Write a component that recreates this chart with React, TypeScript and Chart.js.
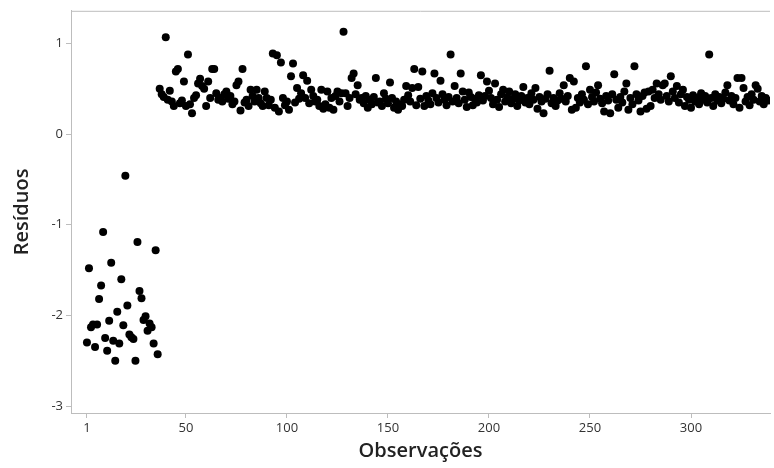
import { useEffect, useRef } from "react";
import { Chart, registerables } from "chart.js";

Chart.register(...registerables);

// Observations 1..36 (low cluster)
const lowResiduals = [
  -2.30, -1.48, -2.13, -2.10, -2.35, -2.10, -1.82, -1.67, -1.08, -2.25,
  -2.39, -2.06, -1.42, -2.28, -2.50, -1.96, -2.31, -1.60, -2.11, -0.46,
  -1.89, -2.21, -2.24, -2.26, -2.50, -1.19, -1.73, -1.81, -2.05, -2.01,
  -2.17, -2.09, -2.13, -2.31, -1.28, -2.43,
];

// Observations 37..338 (upper band)
const highResiduals = [
  0.50, 0.44, 0.41, 1.07, 0.38, 0.48, 0.36, 0.31, 0.69, 0.72,
  0.34, 0.37, 0.58, 0.31, 0.88, 0.33, 0.23, 0.40, 0.43, 0.56,
  0.61, 0.53, 0.50, 0.31, 0.58, 0.40, 0.72, 0.72, 0.45, 0.38,
  0.40, 0.36, 0.44, 0.47, 0.39, 0.42, 0.33, 0.36, 0.54, 0.58,
  0.26, 0.72, 0.35, 0.38, 0.31, 0.49, 0.42, 0.36, 0.49, 0.40,
  0.34, 0.31, 0.47, 0.40, 0.32, 0.38, 0.89, 0.29, 0.87, 0.25,
  0.79, 0.40, 0.32, 0.36, 0.27, 0.64, 0.78, 0.35, 0.51, 0.39,
  0.45, 0.65, 0.40, 0.59, 0.34, 0.49, 0.42, 0.36, 0.38, 0.31,
  0.49, 0.28, 0.33, 0.47, 0.29, 0.40, 0.27, 0.42, 0.47, 0.36,
  0.45, 1.13, 0.45, 0.31, 0.40, 0.62, 0.67, 0.44, 0.54, 0.38,
  0.40, 0.34, 0.42, 0.29, 0.38, 0.33, 0.41, 0.62, 0.35, 0.36,
  0.31, 0.45, 0.39, 0.34, 0.57, 0.40, 0.29, 0.36, 0.27, 0.33,
  0.31, 0.38, 0.53, 0.43, 0.36, 0.51, 0.72, 0.32, 0.52, 0.39,
  0.69, 0.31, 0.42, 0.37, 0.33, 0.45, 0.67, 0.40, 0.35, 0.59,
  0.44, 0.38, 0.32, 0.41, 0.88, 0.36, 0.53, 0.40, 0.34, 0.67,
  0.47, 0.38, 0.30, 0.46, 0.41, 0.32, 0.39, 0.35, 0.43, 0.65,
  0.37, 0.42, 0.58, 0.48, 0.40, 0.33, 0.56, 0.38, 0.30, 0.44,
  0.49, 0.36, 0.41, 0.47, 0.34, 0.39, 0.44, 0.31, 0.37, 0.42,
  0.52, 0.35, 0.40, 0.33, 0.45, 0.38, 0.51, 0.28, 0.41, 0.36,
  0.23, 0.39, 0.44, 0.70, 0.34, 0.40, 0.31, 0.37, 0.45, 0.39,
  0.54, 0.36, 0.42, 0.62, 0.27, 0.58, 0.29, 0.40, 0.35, 0.44,
  0.38, 0.75, 0.33, 0.49, 0.41, 0.36, 0.46, 0.54, 0.39, 0.34,
  0.25, 0.42, 0.37, 0.23, 0.44, 0.66, 0.38, 0.29, 0.41, 0.35,
  0.47, 0.56, 0.27, 0.40, 0.33, 0.75, 0.44, 0.37, 0.25, 0.42,
  0.46, 0.28, 0.47, 0.31, 0.49, 0.40, 0.56, 0.44, 0.38, 0.54,
  0.56, 0.42, 0.36, 0.64, 0.47, 0.40, 0.53, 0.35, 0.44, 0.49,
  0.31, 0.41, 0.38, 0.29, 0.43, 0.36, 0.40, 0.33, 0.45, 0.38,
  0.42, 0.35, 0.88, 0.40, 0.31, 0.44, 0.37, 0.41, 0.34, 0.39,
  0.46, 0.54, 0.37, 0.42, 0.33, 0.40, 0.62, 0.29, 0.62, 0.51,
  0.36, 0.41, 0.32, 0.44, 0.38, 0.54, 0.50, 0.36, 0.42, 0.33, 0.40, 0.37,
];

const xTickValues = [1, 50, 100, 150, 200, 250, 300];
const yTickValues = [-3, -2, -1, 0, 1];
const xTitle = "Observações";
const yTitle = "Resíduos";

const FONT = "'Open Sans', 'Noto Sans', sans-serif";
const AXIS_GRAY = "#bdbdbd";

export default function App() {
  const canvasRef = useRef<HTMLCanvasElement | null>(null);

  useEffect(() => {
    const canvas = canvasRef.current;
    if (!canvas) return;
    const residuals = [...lowResiduals, ...highResiduals];
    const points = residuals.map((v, i) => ({ x: i + 1, y: v }));

    const topFrame = {
      id: "topFrame",
      afterDraw(chart: any) {
        const { ctx, chartArea } = chart;
        ctx.save();
        ctx.strokeStyle = AXIS_GRAY;
        ctx.lineWidth = 1;
        ctx.beginPath();
        ctx.moveTo(chartArea.left, chartArea.top + 0.5);
        ctx.lineTo(chartArea.right, chartArea.top + 0.5);
        ctx.stroke();
        ctx.restore();
      },
    };

    const chart = new Chart(canvas, {
      type: "scatter",
      data: {
        datasets: [
          {
            data: points,
            backgroundColor: "#000000",
            borderColor: "#000000",
            borderWidth: 0,
            pointRadius: 4,
            pointHoverRadius: 4,
          },
        ],
      },
      options: {
        responsive: false,
        animation: false,
        devicePixelRatio: 1,
        layout: { padding: { top: 7, right: 0, left: 0, bottom: 0 } },
        plugins: {
          legend: { display: false },
          tooltip: { enabled: false },
        },
        scales: {
          x: {
            type: "linear",
            min: -6.9,
            max: 339.1,
            afterBuildTicks: (s: any) => {
              s.ticks = xTickValues.map((v) => ({ value: v }));
            },
            afterFit: (s: any) => {
              s.height = 55;
            },
            grid: {
              drawOnChartArea: false,
              drawTicks: true,
              tickLength: 5,
              color: AXIS_GRAY,
            },
            border: { color: AXIS_GRAY, width: 1 },
            ticks: {
              color: "#333333",
              font: { family: FONT, size: 13 },
              padding: 2,
              maxRotation: 0,
              autoSkip: false,
            },
            title: {
              display: true,
              text: xTitle,
              color: "#222222",
              font: { family: FONT, size: 20, weight: "600" },
              padding: { top: 0, bottom: 5 },
            },
          },
          y: {
            type: "linear",
            min: -3.077,
            max: 1.361,
            afterBuildTicks: (s: any) => {
              s.ticks = yTickValues.map((v) => ({ value: v }));
            },
            afterFit: (s: any) => {
              s.width = 71;
            },
            grid: {
              drawOnChartArea: false,
              drawTicks: true,
              tickLength: 5,
              color: AXIS_GRAY,
            },
            border: { color: AXIS_GRAY, width: 1 },
            ticks: {
              color: "#333333",
              font: { family: FONT, size: 13 },
              padding: 3,
              autoSkip: false,
            },
            title: {
              display: true,
              text: yTitle,
              color: "#222222",
              font: { family: FONT, size: 20, weight: "600" },
              padding: { top: 10, bottom: 0 },
            },
          },
        },
      },
      plugins: [topFrame],
    });

    return () => {
      chart.destroy();
    };
  }, []);

  return (
    <div
      style={{
        position: "absolute",
        left: 0,
        top: 0,
        width: "774px",
        height: "468px",
        overflow: "hidden",
        background: "#ffffff",
      }}
    >
      <canvas ref={canvasRef} width={774} height={468} />
    </div>
  );
}
